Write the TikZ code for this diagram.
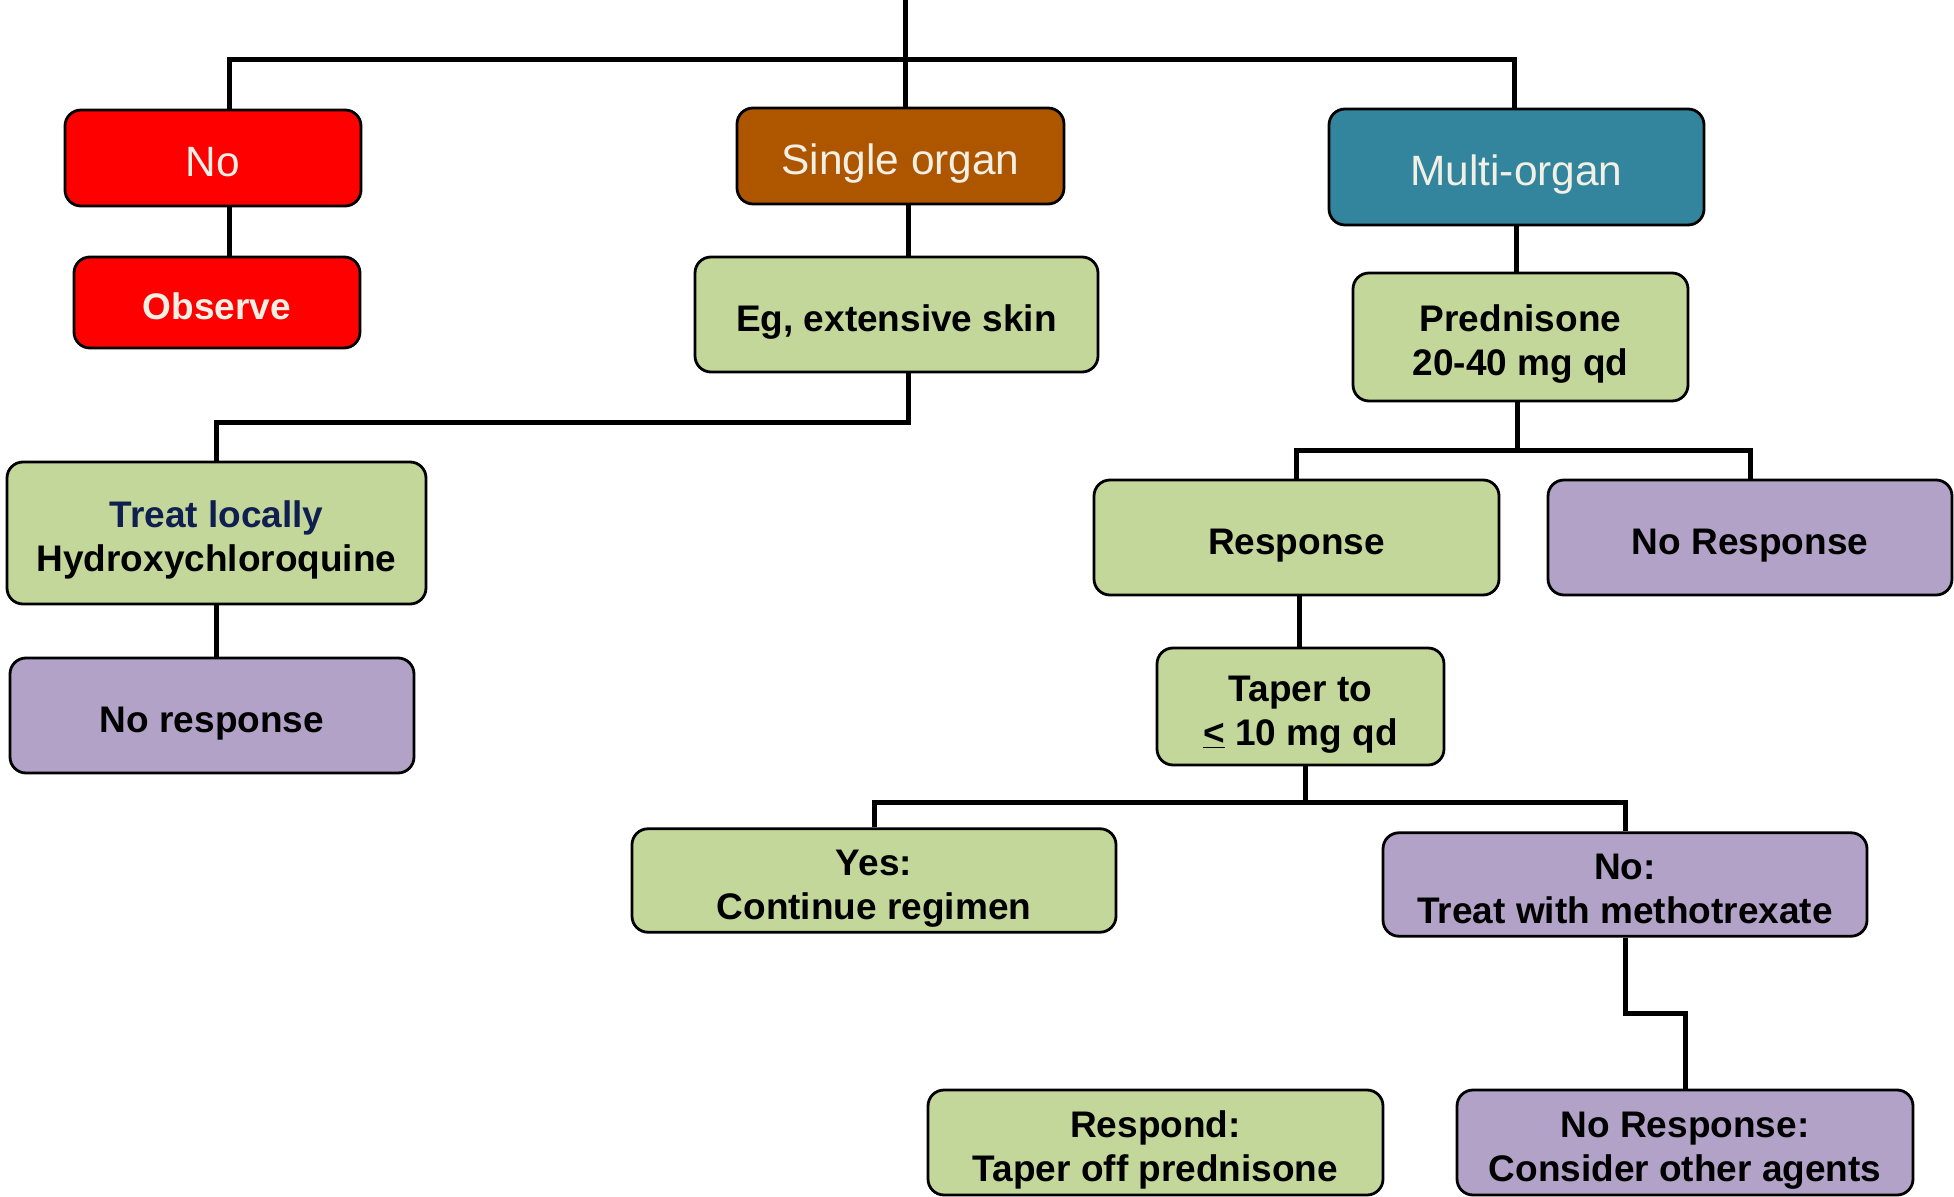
\documentclass[tikz,border=0pt]{standalone}
\usepackage{fontspec}
\setmainfont{Liberation Sans}
\definecolor{boxred}{HTML}{FF0000}
\definecolor{boxbrown}{HTML}{AE5500}
\definecolor{boxteal}{HTML}{33859E}
\definecolor{boxgreen}{HTML}{C4D79B}
\definecolor{boxpurple}{HTML}{B2A2C7}
\definecolor{navytext}{HTML}{0F1F50}
\definecolor{creamtext}{HTML}{F2F0E4}
\newcommand{\boxtext}[1]{\begin{tabular}{@{}c@{}}\rule{0pt}{1.25em}#1\rule[-0.35em]{0pt}{0.35em}\end{tabular}}
\begin{document}
\begin{tikzpicture}[x=0.5pt, y=-0.5pt,
    box/.style={draw, rounded corners=8pt, line width=1.4pt, inner sep=0pt,
      font=\bfseries\fontsize{18.5}{22}\selectfont},
    head/.style={box, text=creamtext, font=\fontsize{21.2}{25}\selectfont},
    greenbox/.style={box, fill=boxgreen},
    purplebox/.style={box, fill=boxpurple},
    link/.style={line width=2.5pt}]
    \useasboundingbox (0,0) rectangle (1954,1197);
    \node[head, fill=boxred, minimum width=148pt, minimum height=48pt] (no) at (213,158) {\boxtext{No}};
    \node[box, fill=boxred, text=creamtext, minimum width=143pt, minimum height=45.5pt] (obs) at (217,302.5) {\boxtext{Observe}};
    \node[head, fill=boxbrown, minimum width=163.5pt, minimum height=48pt] (single) at (900.5,156) {\boxtext{Single organ}};
    \node[greenbox, minimum width=201.5pt, minimum height=57.5pt] (skin) at (896.5,314.5) {\boxtext{Eg, extensive skin}};
    \node[head, fill=boxteal, minimum width=187.5pt, minimum height=58pt] (multi) at (1516.5,167) {\boxtext{Multi-organ}};
    \node[greenbox, minimum width=167.5pt, minimum height=64pt] (pred) at (1520.5,337) {\boxtext{Prednisone\\20-40 mg qd}};
    \node[greenbox, minimum width=209.5pt, minimum height=71pt] (local) at (216.5,533) {\boxtext{\textcolor{navytext}{Treat locally}\\Hydroxychloroquine}};
    \node[purplebox, minimum width=202pt, minimum height=57.5pt] (nores1) at (212,715.5) {\boxtext{No response}};
    \node[greenbox, minimum width=202.5pt, minimum height=57.5pt] (resp) at (1296.5,537.5) {\boxtext{Response}};
    \node[purplebox, minimum width=202pt, minimum height=57.5pt] (nores2) at (1750,537.5) {\boxtext{No Response}};
    \node[greenbox, minimum width=143.5pt, minimum height=58.5pt] (taper) at (1300.5,706.5) {\boxtext{Taper to\\\underline{<} 10 mg qd}};
    \node[greenbox, minimum width=242pt, minimum height=51.5pt] (yes) at (874,880.5) {\boxtext{Yes:\\Continue regimen}};
    \node[purplebox, minimum width=242pt, minimum height=51.5pt] (mtx) at (1625,884.5) {\boxtext{No:\\Treat with methotrexate}};
    \node[greenbox, minimum width=227.5pt, minimum height=52.5pt] (respond) at (1155.5,1142.5) {\boxtext{Respond:\\Taper off prednisone}};
    \node[purplebox, minimum width=228pt, minimum height=52.5pt] (other) at (1685,1142.5) {\boxtext{No Response:\\Consider other agents}};
    \coordinate (top) at (905,0);
    \coordinate (jL) at (229,60);
    \coordinate (jR) at (1514,60);
    \coordinate (c1) at (908,423);
    \coordinate (c2) at (1517,451);
    \coordinate (c3) at (1305,802);
    \coordinate (c4) at (1625,1013);
    \draw[link] (top) -- (top |- single.north);
    \draw[link] (no.north -| jL) -- (jL) -- (jR) -- (multi.north -| jR);
    \draw[link] (no.south -| jL) -- (obs.north -| jL);
    \draw[link] (single.south -| c1) -- (skin.north -| c1);
    \draw[link] (skin.south -| c1) -- (c1) -| (local.north);
    \draw[link] (local.south) -- (local.south |- nores1.north);
    \draw[link] (multi.south) -- (multi.south |- pred.north);
    \draw[link] (pred.south -| c2) -- (c2);
    \draw[link] (resp.north) |- (c2) -| (nores2.north);
    \draw[link] (resp.south -| 1299,0) -- (taper.north -| 1299,0);
    \draw[link] (taper.south -| c3) -- (c3);
    \draw[link] (yes.north) |- (c3) -| (mtx.north);
    \draw[link] (mtx.south) -- (c4) -| (other.north);
\end{tikzpicture}
\end{document}
